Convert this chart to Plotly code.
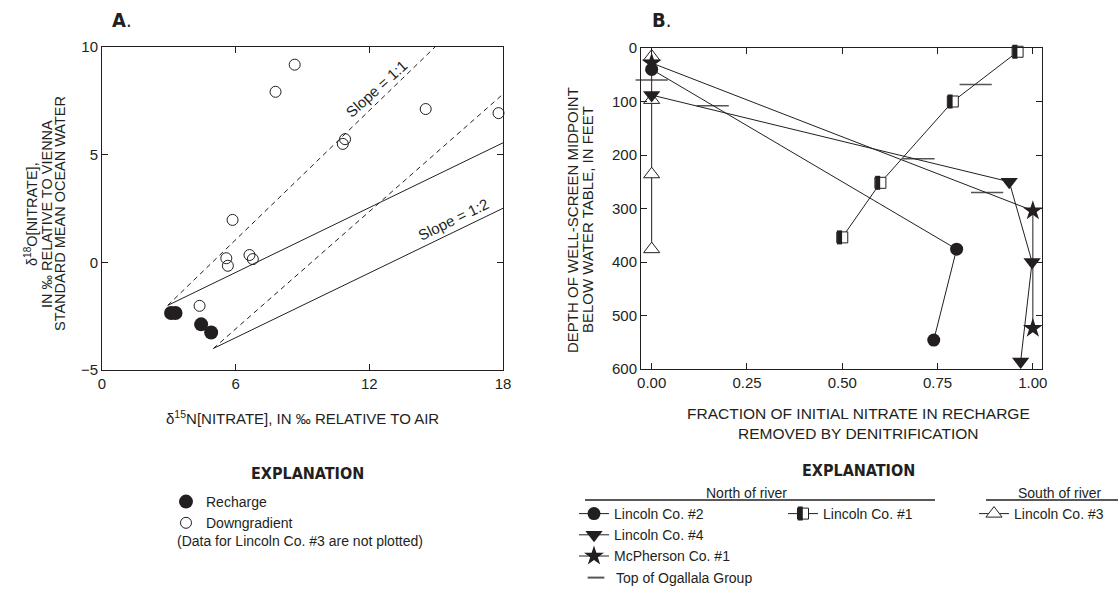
import plotly.graph_objects as go

W, H = 1118, 592

# ---------------- Panel A data ----------------
recharge_d15n = [3.1, 3.3, 4.45, 4.9]
recharge_d18o = [-2.35, -2.35, -2.88, -3.26]
downgradient_d15n = [8.65, 7.79, 14.53, 17.8, 10.91, 10.81, 5.86, 5.58, 5.65, 6.62, 6.77, 4.38]
downgradient_d18o = [9.18, 7.92, 7.12, 6.93, 5.72, 5.50, 1.97, 0.19, -0.16, 0.34, 0.15, -2.02]

upper_dashed_x = [2.95, 14.95]
upper_dashed_y = [-2.0, 10.0]
upper_solid_x = [2.95, 18.0]
upper_solid_y = [-2.0, 5.55]
lower_dashed_x = [5.0, 18.0]
lower_dashed_y = [-4.0, 7.81]
lower_solid_x = [5.0, 18.0]
lower_solid_y = [-4.0, 2.51]

xticks_a = [0, 6, 12, 18]
yticks_a = [-5, 0, 5, 10]

# ---------------- Panel B data ----------------
lincoln2_frac = [0.0, 0.80, 0.74]
lincoln2_depth = [40, 376, 546]
lincoln4_frac = [0.0, 0.938, 0.998, 0.968]
lincoln4_depth = [88, 250, 400, 586]
mcpherson1_frac = [0.0, 1.0, 1.0]
mcpherson1_depth = [28, 304, 524]
lincoln1_frac = [0.96, 0.79, 0.60, 0.50]
lincoln1_depth = [7, 100, 252, 354]
lincoln3_frac = [0.0, 0.0, 0.0, 0.0]
lincoln3_depth = [16, 97, 236, 376]
ogallala_frac = [0.0, 0.16, 0.85, 0.70, 0.88]
ogallala_depth = [60, 108, 68, 207, 270]

xticks_b = [0, 0.25, 0.5, 0.75, 1.0]
xticklabels_b = ['0.00', '0.25', '0.50', '0.75', '1.00']
yticks_b = [0, 100, 200, 300, 400, 500, 600]

# ---------------- styles ----------------
INK = '#231f20'
FONT = 'Liberation Sans, Arial, Helvetica, sans-serif'
BOLDN = 'DejaVu Sans Condensed, Liberation Sans Narrow, Arial Narrow, sans-serif'
HALF_OFFSET = 0.0071  # shift of the black half of the half-filled square (style)

fig = go.Figure()

# Panel A reference lines
for xs, ys, dash in [(upper_dashed_x, upper_dashed_y, '5px,4px'),
                     (upper_solid_x, upper_solid_y, 'solid'),
                     (lower_dashed_x, lower_dashed_y, '5px,4px'),
                     (lower_solid_x, lower_solid_y, 'solid')]:
    fig.add_trace(go.Scatter(x=xs, y=ys, mode='lines', xaxis='x', yaxis='y',
                             line=dict(color=INK, width=1, dash=dash),
                             showlegend=False, hoverinfo='skip'))

fig.add_trace(go.Scatter(x=recharge_d15n, y=recharge_d18o, mode='markers', name='Recharge',
                         xaxis='x', yaxis='y', legend='legend', cliponaxis=False,
                         marker=dict(symbol='circle', size=14, color=INK, line=dict(width=0))))
fig.add_trace(go.Scatter(x=downgradient_d15n, y=downgradient_d18o, mode='markers', name='Downgradient',
                         xaxis='x', yaxis='y', legend='legend', cliponaxis=False,
                         marker=dict(symbol='circle-open', size=11, color=INK, line=dict(width=1))))

# Panel B
fig.add_trace(go.Scatter(x=ogallala_frac, y=ogallala_depth, mode='markers', name='Top of Ogallala Group',
                         xaxis='x2', yaxis='y2', legend='legend5', cliponaxis=False,
                         marker=dict(symbol='line-ew-open', size=23, color='#555555', line=dict(width=1.5))))
fig.add_trace(go.Scatter(x=lincoln3_frac, y=lincoln3_depth, mode='lines+markers', name='Lincoln Co. #3',
                         xaxis='x2', yaxis='y2', legend='legend4', cliponaxis=False,
                         line=dict(color=INK, width=1),
                         marker=dict(symbol='triangle-up', size=14, color='white', line=dict(color=INK, width=1))))
fig.add_trace(go.Scatter(x=lincoln1_frac, y=lincoln1_depth, mode='lines+markers', name='Lincoln Co. #1',
                         xaxis='x2', yaxis='y2', legend='legend3', cliponaxis=False,
                         line=dict(color=INK, width=1),
                         marker=dict(symbol='square', size=11, color='white', line=dict(color=INK, width=1))))
fig.add_trace(go.Scatter(x=[f - HALF_OFFSET for f in lincoln1_frac], y=lincoln1_depth, mode='markers', name=' ',
                         xaxis='x2', yaxis='y2', legend='legend6', cliponaxis=False, hoverinfo='skip',
                         marker=dict(symbol='line-ns-open', size=10, color=INK, line=dict(width=5))))
fig.add_trace(go.Scatter(x=lincoln2_frac, y=lincoln2_depth, mode='lines+markers', name='Lincoln Co. #2',
                         xaxis='x2', yaxis='y2', legend='legend2', cliponaxis=False,
                         line=dict(color=INK, width=1),
                         marker=dict(symbol='circle', size=13, color=INK)))
fig.add_trace(go.Scatter(x=lincoln4_frac, y=lincoln4_depth, mode='lines+markers', name='Lincoln Co. #4',
                         xaxis='x2', yaxis='y2', legend='legend2', cliponaxis=False,
                         line=dict(color=INK, width=1),
                         marker=dict(symbol='triangle-down', size=15, color=INK)))
fig.add_trace(go.Scatter(x=mcpherson1_frac, y=mcpherson1_depth, mode='lines+markers', name='McPherson Co. #1',
                         xaxis='x2', yaxis='y2', legend='legend2', cliponaxis=False,
                         line=dict(color=INK, width=1),
                         marker=dict(symbol='star', size=15, color=INK)))

axis_common = dict(showline=True, linecolor=INK, linewidth=1, mirror='allticks', ticks='inside',
                   ticklen=6, tickcolor=INK, tickwidth=1, showgrid=False, zeroline=False,
                   tickfont=dict(family=FONT, size=15, color=INK))


def legend_cfg(left_px, top_px, sizing='trace'):
    return dict(x=left_px / W, y=1 - top_px / H, xanchor='left', yanchor='top',
                bgcolor='rgba(0,0,0,0)', borderwidth=0, orientation='v', tracegroupgap=0,
                itemsizing=sizing, font=dict(family=FONT, size=14, color=INK))


def ann(text, x, y, size=15, family=FONT, angle=0, xanchor='center'):
    return dict(text=text, x=x / W, y=1 - y / H, xref='paper', yref='paper', showarrow=False,
                xanchor=xanchor, yanchor='middle', textangle=angle,
                font=dict(family=family, size=size, color=INK))


annotations = [
    ann('<b>A</b>.', 110, 20, size=20, family=BOLDN, xanchor='left'),
    ann('<b>B</b>.', 650, 20, size=20, family=BOLDN, xanchor='left'),
    ann('δ<sup>18</sup>O[NITRATE],', 31, 214, size=14.5, angle=-90),
    ann('IN ‰ RELATIVE TO VIENNA', 47, 214, size=14.5, angle=-90),
    ann('STANDARD MEAN OCEAN WATER', 60, 214, size=14.5, angle=-90),
    ann('δ<sup>15</sup>N[NITRATE], IN ‰ RELATIVE TO AIR', 302, 417),
    ann('DEPTH OF WELL-SCREEN MIDPOINT', 572, 220, angle=-90),
    ann('BELOW WATER TABLE, IN FEET', 587, 220, angle=-90),
    ann('FRACTION OF INITIAL NITRATE IN RECHARGE', 858, 413, size=15.5),
    ann('REMOVED BY DENITRIFICATION', 858, 433, size=15.5),
    ann('<b>EXPLANATION</b>', 307, 473, size=16, family=BOLDN),
    ann('<b>EXPLANATION</b>', 858, 470, size=16, family=BOLDN),
    ann('(Data for Lincoln Co. #3 are not plotted)', 175, 541, size=14, xanchor='left'),
    ann('North of river', 746, 493, size=14),
    ann('South of river', 1060, 493, size=14),
    dict(text='Slope = 1:1', x=12.32, y=8.09, xref='x', yref='y', showarrow=False, textangle=-42,
         font=dict(family=FONT, size=15, color=INK)),
    dict(text='Slope = 1:2', x=15.75, y=2.01, xref='x', yref='y', showarrow=False, textangle=-26,
         font=dict(family=FONT, size=15, color=INK)),
]

shapes = [
    dict(type='line', xref='paper', yref='paper', x0=585 / W, x1=935 / W, y0=1 - 500 / H, y1=1 - 500 / H,
         line=dict(color=INK, width=1.5)),
    dict(type='line', xref='paper', yref='paper', x0=986 / W, x1=1118 / W, y0=1 - 500 / H, y1=1 - 500 / H,
         line=dict(color=INK, width=1.5)),
]

fig.update_layout(
    width=W, height=H,
    margin=dict(l=0, r=0, t=0, b=0, autoexpand=False),
    paper_bgcolor='white', plot_bgcolor='white',
    font=dict(family=FONT, color=INK),
    xaxis=dict(domain=[102 / W, 503 / W], range=[0, 18], tickvals=xticks_a, anchor='y', **axis_common),
    yaxis=dict(domain=[1 - 370 / H, 1 - 47 / H], range=[-5, 10], tickvals=yticks_a, anchor='x', **axis_common),
    xaxis2=dict(domain=[641 / W, 1042 / W], range=[-0.028, 1.024], tickvals=xticks_b, ticktext=xticklabels_b,
                anchor='y2', **axis_common),
    yaxis2=dict(domain=[1 - 369 / H, 1 - 48 / H], range=[600, 0], tickvals=yticks_b, anchor='x2', **axis_common),
    legend=legend_cfg(166, 486),
    legend2=legend_cfg(574, 498),
    legend3=legend_cfg(783, 498),
    legend6=legend_cfg(783 - 2.7, 498),
    legend4=legend_cfg(974, 498),
    legend5=legend_cfg(576, 562, sizing='constant'),
    annotations=annotations,
    shapes=shapes,
    showlegend=True,
)

fig.write_html('out.html', config={'displayModeBar': False},
               post_script="document.body.style.margin='0';document.body.style.padding='0';")
